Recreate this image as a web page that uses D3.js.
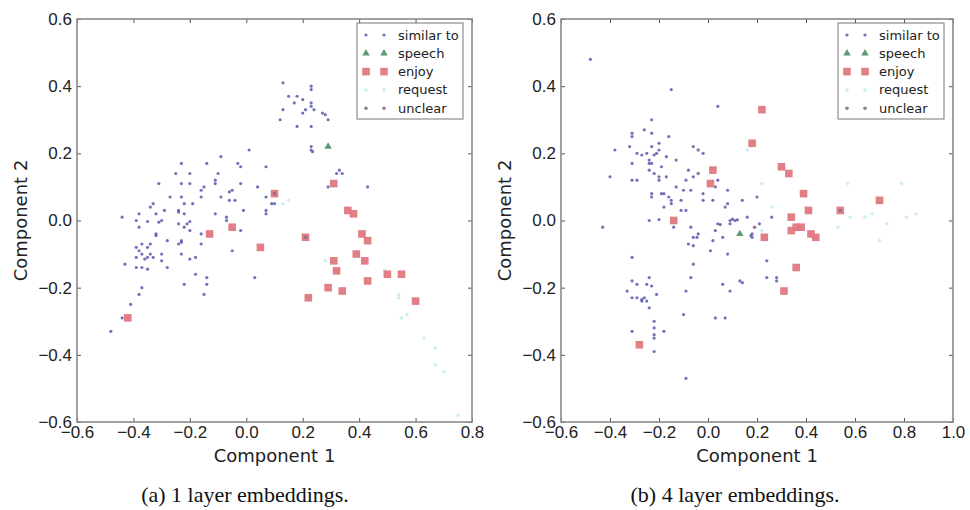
<!DOCTYPE html>
<html>
<head>
<meta charset="utf-8">
<script src="https://cdn.jsdelivr.net/npm/d3@7"></script>
<style>
  body { margin: 0; background: #fff; }
  svg { font-family: "DejaVu Sans", sans-serif; }
</style>
</head>
<body>
<svg id="fig" width="970" height="510"></svg>
<script>
// values, [component 1, component 2]
const classes = ["similar to", "speech", "enjoy", "request", "unclear"];
const xTicksA = [-0.6, -0.4, -0.2, 0.0, 0.2, 0.4, 0.6, 0.8];
const xTicksB = [-0.6, -0.4, -0.2, 0.0, 0.2, 0.4, 0.6, 0.8, 1.0];
const yTicks = [-0.6, -0.4, -0.2, 0.0, 0.2, 0.4, 0.6];

// (a) 1 layer
const l1Similar = [
  [-0.09,0.19],[0.01,0.21],[-0.23,0.17],[-0.14,0.17],[-0.03,0.17],[-0.02,0.16],[0.07,0.16],
  [-0.25,0.14],[-0.20,0.14],[-0.10,0.14],[-0.11,0.12],[-0.31,0.11],[-0.23,0.11],[-0.20,0.11],
  [-0.11,0.11],[-0.15,0.10],[-0.02,0.11],[-0.16,0.09],[-0.05,0.09],[-0.06,0.085],[0.04,0.10],
  [-0.27,0.07],[-0.23,0.07],[-0.16,0.07],[-0.09,0.07],[-0.04,0.06],[-0.19,0.05],[-0.22,0.05],
  [-0.06,0.06],[0.07,0.07],[-0.34,0.04],[-0.33,0.05],[-0.29,0.03],[-0.24,0.03],[-0.24,0.025],
  [-0.01,0.03],[0.09,0.05],[-0.22,0.02],[-0.11,0.02],[-0.07,0.01],[-0.07,0.00],[0.07,0.03],
  [0.07,0.02],[-0.44,0.01],[-0.38,0.02],[-0.32,0.02],[-0.30,0.00],[-0.31,-0.005],[-0.39,0.00],
  [-0.35,-0.003],[-0.20,-0.003],[-0.21,-0.01],[-0.24,-0.01],[-0.38,-0.02],[-0.22,-0.02],
  [-0.20,-0.03],[-0.02,-0.03],[-0.32,-0.04],[-0.32,-0.045],[-0.16,-0.04],[-0.28,-0.06],
  [-0.23,-0.06],[-0.23,-0.065],[-0.24,-0.07],[-0.37,-0.07],[-0.34,-0.07],[-0.35,-0.08],
  [-0.39,-0.08],[-0.16,-0.07],[-0.05,-0.09],[-0.38,-0.09],[-0.34,-0.10],[-0.30,-0.10],
  [-0.37,-0.10],[-0.35,-0.11],[-0.36,-0.115],[-0.39,-0.11],[-0.33,-0.11],[-0.23,-0.10],
  [-0.18,-0.11],[-0.20,-0.115],[-0.43,-0.13],[-0.30,-0.12],[-0.37,-0.14],[-0.35,-0.145],
  [-0.39,-0.14],[-0.28,-0.14],[-0.18,-0.16],[-0.14,-0.17],[0.03,-0.17],[-0.14,-0.19],
  [-0.22,-0.19],[-0.37,-0.20],[-0.38,-0.22],[-0.15,-0.22],[-0.41,-0.25],[-0.44,-0.29],
  [-0.48,-0.33],
  [0.13,0.41],[0.23,0.40],[0.23,0.39],[0.15,0.37],[0.18,0.37],[0.20,0.36],[0.17,0.35],
  [0.23,0.35],[0.23,0.34],[0.21,0.33],[0.20,0.32],[0.24,0.33],[0.13,0.33],[0.27,0.32],
  [0.28,0.315],[0.12,0.30],[0.29,0.30],[0.18,0.28],[0.23,0.28],[0.23,0.22],[0.23,0.21],
  [0.235,0.205],[0.33,0.15],[0.32,0.14],[0.34,0.14],[0.29,0.10],[0.43,0.10],[0.10,0.05]
];
const l1Speech = [[0.29,0.22]];
const l1Enjoy = [
  [0.10,0.08],[-0.13,-0.04],[-0.05,-0.02],[0.05,-0.08],[-0.42,-0.29],[0.31,0.11],[0.36,0.03],
  [0.38,0.02],[0.21,-0.05],[0.41,-0.04],[0.43,-0.06],[0.39,-0.10],[0.42,-0.12],[0.31,-0.12],
  [0.32,-0.15],[0.43,-0.18],[0.50,-0.16],[0.55,-0.16],[0.29,-0.20],[0.34,-0.21],[0.22,-0.23],
  [0.60,-0.24]
];
const l1Request = [
  [0.13,0.05],[0.15,0.06],[0.28,-0.12],[0.49,-0.15],[0.54,-0.22],[0.54,-0.23],[0.55,-0.29],
  [0.57,-0.28],[0.63,-0.35],[0.67,-0.38],[0.67,-0.43],[0.70,-0.45],[0.75,-0.58]
];
const l1Unclear = [[0.10,0.08],[0.21,-0.05]];

// (b) 4 layers
const l4Similar = [
  [0.04,0.34],[-0.23,0.30],[-0.31,0.26],[-0.31,0.25],[-0.26,0.27],[-0.23,0.26],[-0.16,0.25],
  [-0.20,0.23],[-0.32,0.22],[-0.38,0.21],[-0.29,0.20],[-0.27,0.195],[-0.25,0.20],[-0.23,0.22],
  [-0.21,0.20],[-0.22,0.195],[-0.20,0.21],[-0.17,0.19],[-0.24,0.18],[-0.24,0.17],[-0.23,0.17],
  [-0.31,0.17],[-0.13,0.18],[-0.06,0.22],[-0.02,0.20],[-0.19,0.16],[-0.24,0.15],[-0.22,0.14],
  [-0.20,0.13],[-0.17,0.13],[-0.08,0.15],[-0.06,0.13],[0.04,0.12],[0.03,0.10],[-0.31,0.12],
  [-0.29,0.12],[-0.20,0.12],[-0.40,0.13],[-0.09,0.12],[-0.13,0.10],[-0.10,0.09],[-0.07,0.09],
  [-0.02,0.08],[0.08,0.09],[-0.23,0.08],[-0.23,0.07],[-0.19,0.08],[-0.18,0.08],[-0.16,0.07],
  [0.20,0.07],[-0.15,0.06],[-0.15,0.05],[-0.11,0.06],[-0.02,0.06],[0.02,0.06],[0.08,0.05],
  [0.14,0.06],[-0.18,0.04],[-0.11,0.03],[-0.09,0.03],[0.07,0.04],[0.16,0.01],[-0.24,0.00],
  [-0.20,0.003],[-0.14,-0.02],[-0.43,-0.02],[-0.07,-0.02],[0.04,-0.01],[0.05,-0.012],
  [0.09,0.00],[0.10,0.004],[0.11,0.00],[0.12,0.002],[0.09,-0.01],[0.03,-0.03],[0.21,-0.01],
  [0.18,-0.04],[0.175,-0.045],[0.18,-0.05],[0.06,-0.05],[0.02,-0.06],[-0.04,-0.04],
  [-0.045,-0.05],[-0.06,-0.05],[-0.08,-0.07],[-0.06,-0.075],[0.01,-0.09],[0.08,-0.10],
  [-0.31,-0.11],[-0.06,-0.13],[0.24,-0.12],[-0.07,-0.17],[0.24,-0.17],[0.28,-0.17],
  [0.28,-0.18],[0.06,-0.19],[0.13,-0.18],[0.14,-0.185],[0.09,-0.21],[-0.09,-0.21],
  [-0.24,-0.17],[-0.31,-0.18],[-0.29,-0.19],[-0.25,-0.19],[-0.23,-0.195],[-0.33,-0.21],
  [-0.21,-0.22],[-0.31,-0.23],[-0.29,-0.23],[-0.27,-0.24],[-0.26,-0.23],[-0.25,-0.24],
  [-0.27,-0.235],[-0.24,-0.26],[-0.10,-0.28],[0.03,-0.29],[0.07,-0.29],[-0.22,-0.30],
  [-0.22,-0.32],[-0.31,-0.33],[-0.22,-0.34],[-0.22,-0.35],[-0.18,-0.33],[-0.22,-0.39],
  [-0.09,-0.47],[-0.48,0.48],[-0.15,0.39],[0.26,0.01]
];
const l4Speech = [[0.13,-0.04]];
const l4Enjoy = [
  [0.22,0.33],[0.18,0.23],[0.02,0.15],[0.01,0.11],[-0.14,0.00],[0.23,-0.05],[-0.28,-0.37],
  [0.30,0.16],[0.33,0.14],[0.39,0.08],[0.41,0.03],[0.34,0.01],[0.36,-0.02],[0.38,-0.02],
  [0.34,-0.03],[0.42,-0.04],[0.44,-0.05],[0.36,-0.14],[0.31,-0.21],[0.54,0.03],[0.70,0.06]
];
const l4Request = [
  [0.16,0.21],[0.22,0.11],[0.26,0.04],[0.57,0.11],[0.58,0.01],[0.64,0.01],[0.67,0.02],
  [0.73,-0.01],[0.79,0.11],[0.81,0.01],[0.85,0.02],[0.53,-0.02],[0.70,-0.06],[0.22,-0.03]
];
const l4Unclear = [[-0.04,0.21],[-0.04,0.14],[0.19,-0.02],[0.54,0.03]];

const colors = {
  "similar to": "#5a5aae",
  "speech": "#5a9a74",
  "enjoy": "#e07880",
  "request": "#cdeff0",
  "unclear": "#8e6d8e"
};

const svg = d3.select("#fig");

function drawMarker(g, cls, cx, cy) {
  if (cls === "enjoy") {
    g.append("rect").attr("x", cx - 3.8).attr("y", cy - 3.8)
      .attr("width", 7.6).attr("height", 7.6)
      .attr("fill", colors.enjoy).attr("fill-opacity", 0.95);
  } else if (cls === "speech") {
    g.append("path")
      .attr("d", d3.symbol().type(d3.symbolTriangle).size(24)())
      .attr("transform", "translate(" + cx + "," + cy + ")")
      .attr("fill", colors.speech);
  } else if (cls === "request") {
    g.append("circle").attr("cx", cx).attr("cy", cy).attr("r", 1.8).attr("fill", colors.request);
  } else if (cls === "unclear") {
    g.append("circle").attr("cx", cx).attr("cy", cy).attr("r", 1.8).attr("fill", colors.unclear).attr("fill-opacity", 0.9);
  } else {
    g.append("circle").attr("cx", cx).attr("cy", cy).attr("r", 1.6).attr("fill", colors["similar to"]).attr("fill-opacity", 0.85);
  }
}

function panel(opts) {
  const x = d3.scaleLinear().domain(opts.xDomain).range([opts.left, opts.right]);
  const y = d3.scaleLinear().domain([-0.6, 0.6]).range([opts.bottom, opts.top]);
  const g = svg.append("g");

  // points
  const order = [["request", opts.request], ["similar to", opts.similar], ["enjoy", opts.enjoy],
                 ["speech", opts.speech], ["unclear", opts.unclear]];
  order.forEach(([cls, pts]) => {
    const pg = g.append("g");
    pts.forEach(d => drawMarker(pg, cls, x(d[0]), y(d[1])));
  });

  // axes, ticks inward on all four sides
  const fmt = d3.format(".1f");
  const tickStyle = sel => {
    sel.select(".domain").remove();
    sel.selectAll("line").attr("stroke", "#555");
  };
  g.append("g").attr("transform", "translate(0," + opts.bottom + ")")
    .call(d3.axisBottom(x).tickValues(opts.xTicks).tickFormat(fmt).tickSizeInner(-4).tickPadding(4))
    .call(tickStyle)
    .selectAll("text").attr("font-size", 17).attr("fill", "#222");
  g.append("g").attr("transform", "translate(0," + opts.top + ")")
    .call(d3.axisTop(x).tickValues(opts.xTicks).tickFormat("").tickSizeInner(-4))
    .call(tickStyle);
  g.append("g").attr("transform", "translate(" + opts.left + ",0)")
    .call(d3.axisLeft(y).tickValues(yTicks).tickFormat(fmt).tickSizeInner(-4).tickPadding(5))
    .call(tickStyle)
    .selectAll("text").attr("font-size", 17).attr("fill", "#222");
  g.append("g").attr("transform", "translate(" + opts.right + ",0)")
    .call(d3.axisRight(y).tickValues(yTicks).tickFormat("").tickSizeInner(-4))
    .call(tickStyle);

  g.append("rect")
    .attr("x", opts.left).attr("y", opts.top)
    .attr("width", opts.right - opts.left).attr("height", opts.bottom - opts.top)
    .attr("fill", "none").attr("stroke", "#8a8a8a").attr("stroke-width", 1.6);

  // axis titles
  g.append("text").attr("x", (opts.left + opts.right) / 2).attr("y", opts.bottom + 40)
    .attr("text-anchor", "middle").attr("font-size", 18).attr("fill", "#222").text("Component 1");
  g.append("text")
    .attr("transform", "translate(" + (opts.left - 50) + "," + ((opts.top + opts.bottom) / 2) + ")rotate(-90)")
    .attr("text-anchor", "middle").attr("font-size", 18).attr("fill", "#222").text("Component 2");

  // legend
  const lx = opts.right - 115, ly = opts.top + 4;
  const lg = g.append("g").attr("transform", "translate(" + lx + "," + ly + ")");
  lg.append("rect").attr("width", 106).attr("height", 96)
    .attr("fill", "#fff").attr("stroke", "#777").attr("stroke-width", 1);
  classes.forEach((cls, i) => {
    const cy = 12 + i * 18.3;
    drawMarker(lg, cls, 9, cy);
    drawMarker(lg, cls, 27, cy);
    lg.append("text").attr("x", 41).attr("y", cy + 4.5).attr("font-size", 13)
      .attr("fill", "#222").text(cls);
  });

  // caption
  svg.append("text").attr("x", opts.captionX).attr("y", 502)
    .attr("text-anchor", "middle").attr("font-family", "'Liberation Serif', serif")
    .attr("font-size", 22).attr("fill", "#111").text(opts.caption);
}

panel({
  left: 77, right: 472, top: 19, bottom: 422,
  xDomain: [-0.6, 0.8], xTicks: xTicksA,
  similar: l1Similar, speech: l1Speech, enjoy: l1Enjoy, request: l1Request, unclear: l1Unclear,
  caption: "(a) 1 layer embeddings.", captionX: 245
});
panel({
  left: 561, right: 953, top: 19, bottom: 422,
  xDomain: [-0.6, 1.0], xTicks: xTicksB,
  similar: l4Similar, speech: l4Speech, enjoy: l4Enjoy, request: l4Request, unclear: l4Unclear,
  caption: "(b) 4 layer embeddings.", captionX: 735
});
</script>
</body>
</html>
